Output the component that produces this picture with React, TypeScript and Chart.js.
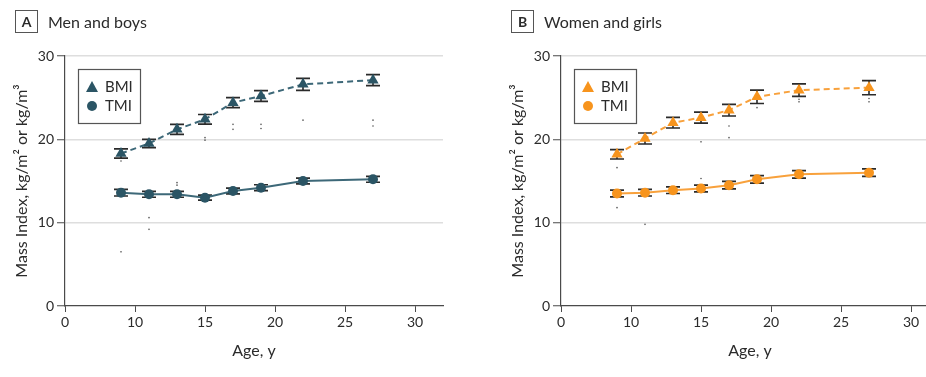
import React, { useEffect, useRef } from 'react';
import { Chart, registerables } from 'chart.js';

Chart.register(...registerables);

// ---- data ----
const ages = [9, 11, 13, 15, 17, 19, 22, 27];
const xTickValues = [5, 10, 15, 20, 25, 30];
const xTickLabels = ['0', '10', '15', '20', '25', '30'];
const yTickValues = [0, 10, 20, 30];

const menBmi = [18.3, 19.5, 21.2, 22.4, 24.4, 25.2, 26.6, 27.1];
const menBmiErr = [0.55, 0.5, 0.6, 0.58, 0.6, 0.64, 0.72, 0.66];
const menTmi = [13.6, 13.4, 13.4, 13.0, 13.8, 14.2, 15.0, 15.2];
const menTmiErr = [0.4, 0.35, 0.35, 0.3, 0.35, 0.35, 0.35, 0.35];

const womenBmi = [18.2, 20.1, 22.0, 22.6, 23.5, 25.1, 25.9, 26.2];
const womenBmiErr = [0.56, 0.66, 0.64, 0.66, 0.7, 0.8, 0.75, 0.85];
const womenTmi = [13.5, 13.6, 13.9, 14.1, 14.5, 15.2, 15.8, 16.0];
const womenTmiErr = [0.4, 0.4, 0.4, 0.4, 0.45, 0.45, 0.45, 0.45];

const menMarkAges = [9, 9, 11, 11, 13, 13, 15, 15, 17, 17, 19, 19, 22, 27, 27];
const menMarkValues = [17.4, 6.5, 10.6, 9.2, 14.8, 14.5, 20.2, 19.9, 21.8, 21.2, 21.8, 21.3, 22.3, 22.3, 21.6];
const womenMarkAges = [9, 9, 11, 15, 15, 17, 17, 19, 22, 22, 27, 27];
const womenMarkValues = [16.6, 11.8, 9.8, 19.7, 15.3, 21.6, 20.2, 23.8, 24.8, 24.5, 24.9, 24.5];

const FONT = 'Lato, "Noto Sans", sans-serif';
const TEXT = '#2b2b2b';
const AXIS = '#4a4a4a';

const errorBarPlugin = {
  id: 'errorBars',
  beforeDatasetsDraw(chart: any, _args: any, opts: any) {
    const { ctx } = chart;
    const y = chart.scales.y;
    const errs: number[][] = opts.errors || [];
    ctx.save();
    ctx.strokeStyle = '#2a2a2a';
    ctx.lineWidth = 1.6;
    errs.forEach((arr, di) => {
      const meta = chart.getDatasetMeta(di);
      const ds = chart.data.datasets[di];
      meta.data.forEach((pt: any, i: number) => {
        const v = ds.data[i].y;
        const yt = y.getPixelForValue(v + arr[i]);
        const yb = y.getPixelForValue(v - arr[i]);
        const x = pt.x;
        ctx.beginPath();
        ctx.moveTo(x, yt);
        ctx.lineTo(x, yb);
        ctx.moveTo(x - 7, yt);
        ctx.lineTo(x + 7, yt);
        ctx.moveTo(x - 7, yb);
        ctx.lineTo(x + 7, yb);
        ctx.stroke();
      });
    });
    ctx.restore();
  },
};

const boxLegendPlugin = {
  id: 'boxLegend',
  afterDraw(chart: any, _args: any, opts: any) {
    const { ctx, chartArea } = chart;
    const x0 = chartArea.left + 13;
    const y0 = chartArea.top + 13;
    const w = 62;
    const h = 54;
    ctx.save();
    ctx.fillStyle = '#fff';
    ctx.fillRect(x0, y0, w, h);
    ctx.strokeStyle = '#555';
    ctx.lineWidth = 1.2;
    ctx.strokeRect(x0 + 0.5, y0 + 0.5, w, h);
    ctx.fillStyle = opts.color;
    const tx = x0 + 14;
    const ty = y0 + 18;
    ctx.beginPath();
    ctx.moveTo(tx, ty - 6);
    ctx.lineTo(tx + 6, ty + 5);
    ctx.lineTo(tx - 6, ty + 5);
    ctx.closePath();
    ctx.fill();
    ctx.beginPath();
    ctx.arc(tx, y0 + 37, 5, 0, Math.PI * 2);
    ctx.fill();
    ctx.fillStyle = TEXT;
    ctx.font = `15px ${FONT}`;
    ctx.textBaseline = 'middle';
    ctx.textAlign = 'left';
    ctx.fillText('BMI', x0 + 27, ty);
    ctx.fillText('TMI', x0 + 27, y0 + 37);
    ctx.restore();
  },
};

type PanelProps = {
  letter: string;
  title: string;
  color: string;
  lineColor: string;
  bmi: number[];
  bmiErr: number[];
  tmi: number[];
  tmiErr: number[];
  markAges: number[];
  markValues: number[];
  left: number;
};

function Panel(p: PanelProps) {
  const ref = useRef<HTMLCanvasElement>(null);
  useEffect(() => {
    if (!ref.current) return;
    const tickFont = { family: FONT, size: 14 };
    const chart = new Chart(ref.current, {
      type: 'line',
      data: {
        datasets: [
          {
            label: 'BMI',
            data: ages.map((a, i) => ({ x: a, y: p.bmi[i] })),
            borderColor: p.lineColor,
            backgroundColor: p.color,
            borderWidth: 2,
            borderDash: [6, 4],
            pointStyle: 'triangle',
            pointRadius: 6.5,
            pointBackgroundColor: p.color,
            pointBorderColor: p.color,
            pointBorderWidth: 0,
            tension: 0,
          },
          {
            label: 'TMI',
            data: ages.map((a, i) => ({ x: a, y: p.tmi[i] })),
            borderColor: p.lineColor,
            backgroundColor: p.color,
            borderWidth: 2,
            pointStyle: 'circle',
            pointRadius: 5,
            pointBackgroundColor: p.color,
            pointBorderColor: p.color,
            pointBorderWidth: 0,
            tension: 0,
          },
          {
            label: 'marks',
            data: p.markAges.map((a, i) => ({ x: a, y: p.markValues[i] })),
            showLine: false,
            pointStyle: 'circle',
            pointRadius: 0.8,
            pointBackgroundColor: '#555',
            pointBorderWidth: 0,
          },
        ],
      },
      options: {
        animation: false,
        responsive: false,
        events: [],
        layout: { padding: { left: 0, right: 27, top: 56, bottom: 0 } },
        plugins: {
          legend: { display: false },
          tooltip: { enabled: false },
          errorBars: { errors: [p.bmiErr, p.tmiErr] },
          boxLegend: { color: p.color },
        } as any,
        scales: {
          x: {
            type: 'linear',
            min: 5,
            max: 32,
            afterBuildTicks: (s: any) => {
              s.ticks = xTickValues.map((v) => ({ value: v }));
            },
            afterFit: (s: any) => {
              s.height = 71;
            },
            ticks: {
              autoSkip: false,
              maxRotation: 0,
              font: tickFont,
              color: TEXT,
              padding: 2,
              callback: (v: any) => {
                const i = xTickValues.indexOf(Number(v));
                return i >= 0 ? xTickLabels[i] : '';
              },
            },
            grid: {
              drawOnChartArea: false,
              drawTicks: true,
              tickLength: 6,
              tickColor: AXIS,
              tickWidth: 1,
            },
            border: { color: AXIS, width: 1.2 },
            title: {
              display: true,
              text: 'Age, y',
              font: { family: FONT, size: 16 },
              color: TEXT,
              padding: { top: 0, bottom: 17 },
            },
          },
          y: {
            type: 'linear',
            min: 0,
            max: 30,
            afterBuildTicks: (s: any) => {
              s.ticks = yTickValues.map((v) => ({ value: v }));
            },
            afterFit: (s: any) => {
              s.width = 65;
            },
            ticks: { font: tickFont, color: TEXT, padding: 3 },
            grid: {
              color: (ctx: any) => (ctx.tick && ctx.tick.value === 0 ? 'rgba(0,0,0,0)' : '#dedede'),
              lineWidth: 1.5,
              drawTicks: true,
              tickLength: 8,
              tickColor: AXIS,
              tickWidth: 1,
            },
            border: { color: AXIS, width: 1.2 },
            title: {
              display: true,
              text: 'Mass Index, kg/m² or kg/m³',
              font: { family: FONT, size: 16 },
              color: TEXT,
              padding: { top: 12, bottom: 0 },
            },
          },
        },
      } as any,
      plugins: [errorBarPlugin, boxLegendPlugin],
    });
    return () => chart.destroy();
  }, []);

  return (
    <div style={{ position: 'absolute', left: p.left, top: 0, width: 470, height: 377 }}>
      <canvas ref={ref} width={470} height={377} style={{ width: 470, height: 377, display: 'block' }} />
      <div
        style={{
          position: 'absolute',
          left: 15,
          top: 10,
          width: 23,
          height: 23,
          border: '1.3px solid #555',
          boxSizing: 'border-box',
          fontFamily: FONT,
          fontWeight: 700,
          fontSize: 14,
          color: TEXT,
          display: 'flex',
          alignItems: 'center',
          justifyContent: 'center',
        }}
      >
        {p.letter}
      </div>
      <div
        style={{
          position: 'absolute',
          left: 48,
          top: 10,
          height: 23,
          lineHeight: '23px',
          fontFamily: FONT,
          fontSize: 16,
          color: TEXT,
          whiteSpace: 'nowrap',
        }}
      >
        {p.title}
      </div>
    </div>
  );
}

export default function App() {
  return (
    <div
      style={{
        position: 'fixed',
        left: 0,
        top: 0,
        width: 926,
        height: 377,
        overflow: 'hidden',
        background: '#fff',
      }}
    >
      <Panel
        letter="A"
        title="Men and boys"
        color="#2b5565"
        lineColor="#3d6878"
        bmi={menBmi}
        bmiErr={menBmiErr}
        tmi={menTmi}
        tmiErr={menTmiErr}
        markAges={menMarkAges}
        markValues={menMarkValues}
        left={0}
      />
      <Panel
        letter="B"
        title="Women and girls"
        color="#f7941d"
        lineColor="#f8a13c"
        bmi={womenBmi}
        bmiErr={womenBmiErr}
        tmi={womenTmi}
        tmiErr={womenTmiErr}
        markAges={womenMarkAges}
        markValues={womenMarkValues}
        left={496}
      />
    </div>
  );
}
